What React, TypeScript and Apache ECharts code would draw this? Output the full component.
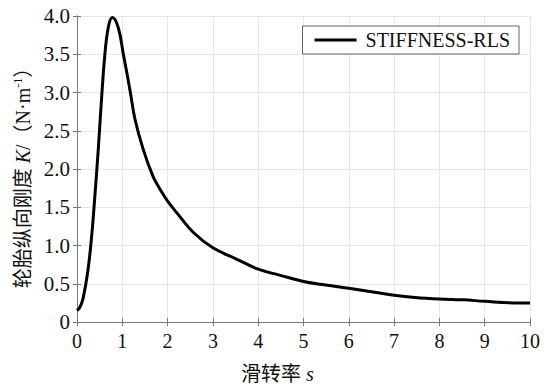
import React, { useEffect, useRef } from "react";
import * as echarts from "echarts";

const slipRatio = [0, 0.06, 0.13, 0.24, 0.32, 0.39, 0.47, 0.54, 0.61, 0.69, 0.78, 0.91, 1.02, 1.17, 1.28, 1.46, 1.68, 1.83, 2.0, 2.2, 2.57, 3.0, 3.53, 4.0, 4.49, 5.0, 5.53, 6.0, 6.57, 7.0, 7.46, 8.0, 8.53, 9.0, 9.64, 10];
const stiffness = [0.15, 0.19, 0.3, 0.67, 1.1, 1.61, 2.26, 2.9, 3.46, 3.85, 3.98, 3.85, 3.51, 3.03, 2.65, 2.26, 1.9, 1.74, 1.58, 1.43, 1.17, 0.97, 0.82, 0.69, 0.61, 0.53, 0.48, 0.44, 0.39, 0.35, 0.32, 0.3, 0.29, 0.27, 0.25, 0.25];
const xTicks = [0, 1, 2, 3, 4, 5, 6, 7, 8, 9, 10];
const yTicks = [0, 0.5, 1, 1.5, 2, 2.5, 3, 3.5, 4];
const seriesName = "STIFFNESS-RLS";

const FONT = "Liberation Serif";
const CJK = "Liberation Serif, Noto Sans CJK SC";

export default function App() {
  const ref = useRef<HTMLDivElement>(null);
  useEffect(() => {
    if (!ref.current) return;
    const chart = echarts.init(ref.current, undefined, { renderer: "svg" });
    const axisColor = "#7a7a7a";
    const gridColor = "#e6e6e6";
    const common = {
      type: "value" as const,
      axisLine: { show: true, lineStyle: { color: axisColor, width: 1 } },
      axisTick: { show: true, inside: true, length: 4, lineStyle: { color: axisColor } },
    };
    chart.setOption({
      animation: false,
      backgroundColor: "#fff",
      textStyle: { fontFamily: FONT },
      grid: { left: 77, right: 17, top: 16, bottom: 64 },
      legend: {
        data: [seriesName],
        right: 28,
        top: 26,
        icon: "rect",
        itemWidth: 42,
        itemHeight: 3,
        padding: [4, 9, 4, 12],
        borderColor: "#666",
        borderWidth: 1,
        backgroundColor: "#fff",
        itemStyle: { color: "#000" },
        textStyle: { fontFamily: FONT, fontSize: 20, color: "#111", padding: [0, 0, 0, 4] },
      },
      xAxis: [
        {
          ...common,
          min: xTicks[0],
          max: xTicks[xTicks.length - 1],
          interval: 1,
          position: "bottom",
          name: "滑转率 {i|s}",
          nameLocation: "middle",
          nameGap: 42,
          nameTextStyle: {
            fontFamily: CJK,
            fontSize: 20,
            color: "#111",
            padding: [0, 52, 0, 0],
            rich: { i: { fontFamily: FONT, fontStyle: "italic", fontSize: 20, color: "#111" } },
          },
          axisLabel: { fontFamily: FONT, fontSize: 20, color: "#111", margin: 9 },
          splitLine: { show: true, lineStyle: { color: gridColor, width: 1 } },
        },
        {
          ...common,
          min: xTicks[0],
          max: xTicks[xTicks.length - 1],
          interval: 1,
          position: "top",
          axisLabel: { show: false },
          splitLine: { show: false },
        },
      ],
      yAxis: [
        {
          ...common,
          min: yTicks[0],
          max: yTicks[yTicks.length - 1],
          interval: 0.5,
          position: "left",
          name: "轮胎纵向刚度 {i|K}/（N·m{sup|-1}）",
          nameLocation: "middle",
          nameGap: 43,
          nameTextStyle: {
            fontFamily: CJK,
            fontSize: 20,
            color: "#111",
            padding: [0, 8, 0, 0],
            rich: {
              i: { fontFamily: FONT, fontStyle: "italic", fontSize: 20, color: "#111" },
              sup: { fontFamily: FONT, fontSize: 12, color: "#111", verticalAlign: "top", padding: [0, 0, 10, 0] },
            },
          },
          axisLabel: {
            fontFamily: FONT,
            fontSize: 21,
            color: "#111",
            margin: 7,
            formatter: (v: number) => (v === 0 ? "0" : v.toFixed(1)),
          },
          splitLine: { show: true, lineStyle: { color: gridColor, width: 1 } },
        },
        {
          ...common,
          min: yTicks[0],
          max: yTicks[yTicks.length - 1],
          interval: 0.5,
          position: "right",
          axisLabel: { show: false },
          splitLine: { show: false },
        },
      ],
      series: [
        {
          name: seriesName,
          type: "line",
          data: slipRatio.map((s, i) => [s, stiffness[i]]),
          smooth: 0.4,
          showSymbol: false,
          symbol: "none",
          lineStyle: { color: "#000", width: 3 },
          itemStyle: { color: "#000" },
          xAxisIndex: 0,
          yAxisIndex: 0,
        },
      ],
    });
    return () => chart.dispose();
  }, []);
  return <div ref={ref} style={{ width: 547, height: 389, position: "absolute", left: 0, top: 0 }} />;
}
